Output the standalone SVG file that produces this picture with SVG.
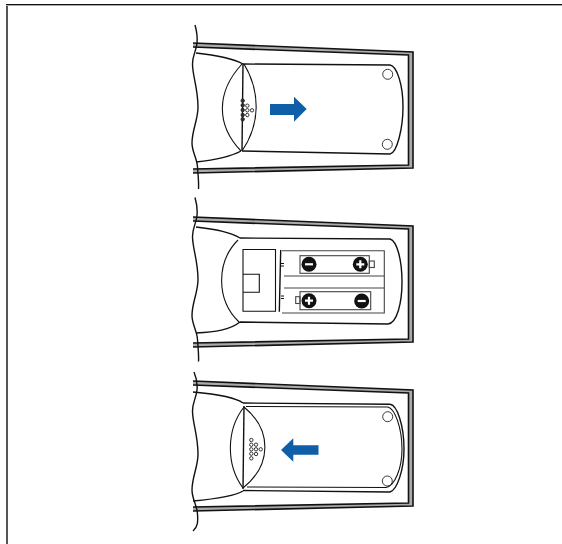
<svg xmlns="http://www.w3.org/2000/svg" width="562" height="544" viewBox="0 0 562 544">
<style>
.l{fill:none;stroke:#111;stroke-width:1.4;stroke-linejoin:round}
.t{fill:none;stroke:#111;stroke-width:1.1}
.c{fill:none;stroke:#444;stroke-width:1.1}
.band{fill:#aaa;fill-rule:evenodd}
.k{fill:none;stroke:#111;stroke-width:1.6;stroke-linejoin:miter}
.d{fill:#fff;stroke:#222;stroke-width:.9}
.h{fill:#333;stroke:#222;stroke-width:.9}
.a{fill:#0f5fa8}
.b{fill:#111}
.s{fill:none;stroke:#fff;stroke-width:2.2}
</style>
<defs>
<g id="case">
<path d="M193 43L413 52V168L193 173V169L408.500 165V55L193 47Z" class="band"/>
<path d="M193 43L413 52V168L193 173" class="k"/>
<path d="M193 47L408.500 55V165L193 169" class="k"/>
</g>
<path id="wave" d="M195 25C197 32 197.500 38 197 43C196 52 192.500 55 192.500 64C192.500 76 198 88 198 107C198 120 192 130 192 143C192 152 197 158 197.500 167C198 176 199 182 198.500 189" class="l"/>
</defs>
<g id="frame"><path d="M7 544V5" fill="none" stroke="#555" stroke-width="2"/><path d="M6 5.500H562" fill="none" stroke="#aaa" stroke-width="1"/><path d="M6 4.500H562" fill="none" stroke="#111" stroke-width="1.200"/></g>
<g id="step1">
<use href="#case"/>
<use href="#wave"/>
<path d="M196 53C215 55 232 58 243 64" class="l"/>
<path d="M196 162C215 160 232 156 241 151" class="l"/>
<path d="M242 64C216 92 216 125 241 151" class="t"/>
<path d="M244 64C261 92 260 125 242 151" class="t"/>
<path d="M243 64L242 151" class="l"/>
<path d="M243 64L390 65C397 66 403 85 403 107C403 128 397 153 390 154L242 151" class="l"/>
<circle cx="387.700" cy="74.300" r="5" class="d"/><circle cx="387.300" cy="144.300" r="5" class="d"/>
<g><circle cx="242.700" cy="100.700" r="1.700" class="h"/><circle cx="242.700" cy="105.300" r="1.700" class="h"/><circle cx="242.700" cy="110" r="1.700" class="h"/><circle cx="242.700" cy="115" r="1.700" class="h"/><circle cx="242.700" cy="119.300" r="1.700" class="h"/><circle cx="247.300" cy="105.700" r="1.700" class="d"/><circle cx="247.300" cy="110.300" r="1.700" class="d"/><circle cx="247.300" cy="115" r="1.700" class="d"/><circle cx="252" cy="110.300" r="1.700" class="d"/></g>
<path d="M270 104H294V96.700L306.700 109L294 121.700V115H270Z" class="a"/>
</g>
<g id="step2">
<g transform="translate(0,174)"><use href="#case"/></g>
<g transform="translate(0,172.500)"><use href="#wave"/></g>
<path d="M196 227C215 229 230 232 240 238L390 239C397 241 402 260 402 282C402 303 397 323 388 324L240 322C230 330 215 332 196 333" class="l"/>
<path d="M238 240C216 262 216 300 239 322" class="t"/>
<path d="M243 249.500H275.500V311.300H243ZM243 274.300H259.300V292.300H243Z" class="t"/>
<path d="M280.700 250L279.300 311.700" class="l"/>
<path d="M282 250.700H384.300V313H282M284 276H384.300M284 288H384.300" class="c"/>
<path d="M281 263.500H284M281 266H284M281 296H284M281 298.500H284" class="t"/>
<rect x="300" y="255.700" width="69.300" height="17.600" class="c"/><rect x="369.300" y="261" width="5" height="6.500" class="c"/>
<rect x="300" y="291.700" width="70.700" height="18" class="c"/><rect x="295.700" y="296.700" width="4.300" height="6.800" class="c"/>
<circle cx="309" cy="264.300" r="7.500" class="b"/><path d="M305 264.300H313" class="s"/>
<circle cx="360.300" cy="264.300" r="7.500" class="b"/><path d="M356.300 264.300H364.300M360.300 260.300V268.300" class="s"/>
<circle cx="309" cy="300.700" r="7.500" class="b"/><path d="M305 300.700H313M309 296.700V304.700" class="s"/>
<circle cx="361.700" cy="301" r="7.500" class="b"/><path d="M357.700 301H365.700" class="s"/>
</g>
<g id="step3">
<g transform="translate(0,338)"><use href="#case"/></g>
<path d="M194 372C197 379 197.500 385 197 390C196 399 192.500 402 192.500 411C192.500 423 198 435 198 454C198 467 192 477 192 490C192 499 197 505 197.500 514C198 521 198 527 193 531" class="l"/>
<path d="M193 392C215 394 235 397 243 403" class="l"/>
<path d="M193 501C215 499 235 496 243 491" class="l"/>
<path d="M244 407C226 430 226 465 243 488" class="t"/>
<path d="M244 407C272 430 272 465 243 488" class="t"/>
<path d="M244 406L243 489" class="l"/>
<path d="M243 403L390 404.300C397 405 404 425 404 449C404 470 397 490 390 492L243 490.500" class="l"/>
<path d="M246 406.500L388 407C395 409 402 428 402 449C402 468 395 486 386 487.500L247 487" class="t"/>
<circle cx="387.700" cy="416.700" r="5" class="d"/><circle cx="387.300" cy="481" r="5" class="d"/>
<g><circle cx="251.300" cy="440" r="1.700" class="d"/><circle cx="251.300" cy="444.700" r="1.700" class="d"/><circle cx="251.300" cy="449.300" r="1.700" class="d"/><circle cx="251.300" cy="453.700" r="1.700" class="d"/><circle cx="251.300" cy="458.300" r="1.700" class="d"/><circle cx="256" cy="444.700" r="1.700" class="d"/><circle cx="256" cy="449.300" r="1.700" class="d"/><circle cx="256" cy="454" r="1.700" class="d"/><circle cx="260.700" cy="449.300" r="1.700" class="d"/></g>
<path d="M318.500 445.300H293.300V438.300L281 450L293.300 461.700V454.700H318.500Z" class="a"/>
</g>
</svg>
